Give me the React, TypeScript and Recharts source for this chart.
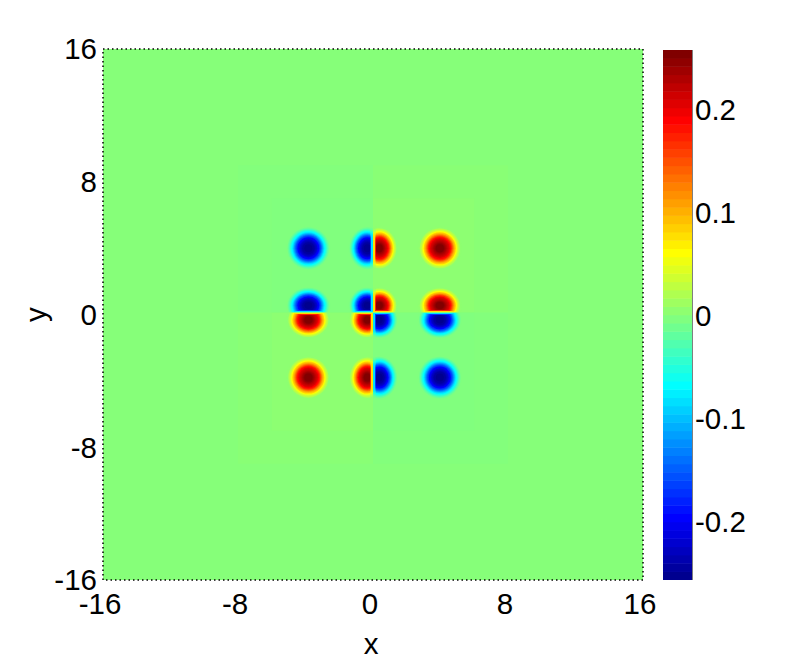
import { ScatterChart, Scatter, ReferenceArea, ReferenceLine, XAxis, YAxis } from "recharts"

// jet colormap, bottom to top of the colorbar
const jetColors = [
  "#00008f", "#00009f", "#0000af", "#0000bf", "#0000cf", "#0000df", "#0000ef", "#0000ff",
  "#0010ff", "#0020ff", "#0030ff", "#0040ff", "#0050ff", "#0060ff", "#0070ff", "#0080ff",
  "#008fff", "#009fff", "#00afff", "#00bfff", "#00cfff", "#00dfff", "#00efff", "#00ffff",
  "#10ffef", "#20ffdf", "#30ffcf", "#40ffbf", "#50ffaf", "#60ff9f", "#70ff8f", "#80ff80",
  "#8fff70", "#9fff60", "#afff50", "#bfff40", "#cfff30", "#dfff20", "#efff10", "#ffff00",
  "#ffef00", "#ffdf00", "#ffcf00", "#ffbf00", "#ffaf00", "#ff9f00", "#ff8f00", "#ff8000",
  "#ff7000", "#ff6000", "#ff5000", "#ff4000", "#ff3000", "#ff2000", "#ff1000", "#ff0000",
  "#ef0000", "#df0000", "#cf0000", "#bf0000", "#af0000", "#9f0000", "#8f0000", "#800000",
]

const axisTicks = [-16, -8, 0, 8, 16]
const colorbarTicks = [-0.2, -0.1, 0, 0.1, 0.2]
const colorMin = -0.257
const colorMax = 0.258

// lobes of the field: columns, rows, sign of each lobe
const lobeColumns = [-3.83, -0.34, 0.37, 3.96]
const lobeRows = [3.99, 0.54, -0.33, -3.8]
const lobeSigns = [
  [-1, -1, 1, 1],
  [-1, -1, 1, 1],
  [1, 1, -1, -1],
  [1, 1, -1, -1],
]
const columnSquash = [1, 0.85, 0.85, 1]
const rowSquash = [1, 0.85, 0.85, 1]
const columnSide = [0, -1, 1, 0]
const rowSide = [0, 1, -1, 0]
const splitX = 0
const splitY = 0.12

// radial profile of one lobe, outermost first (radius in x units)
const ringRadius = [1.3, 1.24, 1.19, 1.13, 1.07, 1.01, 0.95, 0.89, 0.83, 0.77, 0.71, 0.65, 0.59, 0.53, 0.47, 0.41, 0.36, 0.3, 0.24, 0.18]
const ringValue = [0.004, 0.008, 0.02, 0.032, 0.048, 0.064, 0.085, 0.105, 0.129, 0.153, 0.173, 0.193, 0.205, 0.217, 0.225, 0.233, 0.241, 0.245, 0.25, 0.254]
// the value climbs back from zero over the first pixels next to a split line
const edgeValue = [0.08, 0.17]

const plotW = 540
const plotH = 531
const pxPerX = plotW / 32
const pxPerY = plotH / 32
const font = "'Liberation Sans', Arial, sans-serif"
const tickStyle = { fontSize: 29.5, fontFamily: font, fill: "#000" }

const colorOf = (v: number) => {
  const i = Math.floor(((v - colorMin) / (colorMax - colorMin)) * jetColors.length)
  return jetColors[Math.max(0, Math.min(jetColors.length - 1, i))]
}

const lobes = lobeRows.flatMap((y, r) =>
  lobeColumns.map((x, c) => ({
    id: `lobe-${r}-${c}`,
    x,
    y,
    sign: lobeSigns[r][c],
    rx: columnSquash[c],
    ry: rowSquash[r],
    sideX: columnSide[c],
    sideY: rowSide[r],
  })),
)

const levelStep = (colorMax - colorMin) / jetColors.length
const levels = jetColors.map((color, i) => ({ x: 0.5, y: colorMin + (i + 0.5) * levelStep, color }))

const Lobe = (props: any) => {
  const { cx, cy, payload: p } = props
  const edgeX = cx + (splitX - p.x) * pxPerX
  const edgeY = cy + (p.y - splitY) * pxPerY
  const big = 60
  const gap = 0.4
  const cx0 = p.sideX < 0 ? edgeX - big - gap : p.sideX > 0 ? edgeX + gap : cx - big
  const cw = p.sideX === 0 ? big * 2 : big
  const cy0 = p.sideY > 0 ? edgeY - big - gap : p.sideY < 0 ? edgeY + gap : cy - big
  const ch = p.sideY === 0 ? big * 2 : big

  const rings = (cap: number) =>
    ringRadius.map((r, i) => (
      <ellipse
        key={i}
        cx={cx}
        cy={cy}
        rx={r * pxPerX * p.rx}
        ry={r * pxPerX * p.ry}
        fill={colorOf(p.sign * Math.min(ringValue[i], cap))}
      />
    ))

  const strips: any[] = []
  edgeValue.forEach((v, k) => {
    if (p.sideX !== 0) {
      const x = p.sideX < 0 ? edgeX - gap - k - 1 : edgeX + gap + k
      strips.push({ id: `${p.id}-x${k}`, x, y: cy0, w: 1, h: ch, v })
    }
    if (p.sideY !== 0) {
      const y = p.sideY > 0 ? edgeY - gap - k - 1 : edgeY + gap + k
      strips.push({ id: `${p.id}-y${k}`, x: cx0, y, w: cw, h: 1, v })
    }
  })

  return (
    <g>
      <clipPath id={p.id}>
        <rect x={cx0} y={cy0} width={cw} height={ch} />
      </clipPath>
      <g clipPath={`url(#${p.id})`}>
        {rings(1)}
        {strips
          .slice()
          .reverse()
          .map((s) => (
            <g key={s.id}>
              <clipPath id={s.id}>
                <rect x={s.x} y={s.y} width={s.w} height={s.h} />
              </clipPath>
              <g clipPath={`url(#${s.id})`}>{rings(s.v)}</g>
            </g>
          ))}
      </g>
    </g>
  )
}

const Level = (props: any) => {
  const { cx, cy, payload } = props
  const w = 29
  const h = (530 * levelStep) / (colorMax - colorMin)
  return <rect x={cx - w / 2} y={cy - h / 2 - 0.25} width={w} height={h + 0.5} fill={payload.color} />
}

export default function App() {
  return (
    <div style={{ position: "absolute", left: 0, top: 0, width: 789, height: 664, background: "#fff" }}>
      <ScatterChart
        width={789}
        height={664}
        margin={{ top: 49, right: 146, bottom: 0, left: 0 }}
        style={{ position: "absolute", left: 0, top: 0 }}
      >
        <XAxis
          type="number"
          dataKey="x"
          domain={[-16, 16]}
          ticks={axisTicks}
          allowDataOverflow
          axisLine={false}
          tickLine={false}
          tickMargin={7}
          height={84}
          interval={0}
          tick={{ ...tickStyle, dx: -3 }}
          label={{ value: "x", position: "insideBottom", offset: 10, style: tickStyle, dx: -2 }}
        />
        <YAxis
          type="number"
          dataKey="y"
          domain={[-16, 16]}
          ticks={axisTicks}
          allowDataOverflow
          axisLine={false}
          tickLine={false}
          tickMargin={0}
          width={103}
          interval={0}
          tick={tickStyle}
          label={{ value: "y", angle: -90, position: "insideLeft", offset: 36, textAnchor: "middle", style: tickStyle }}
        />
        <ReferenceArea x1={-16} x2={16} y1={-16} y2={16} fill="#86ff79" fillOpacity={1} stroke="none" />
        <ReferenceArea x1={0} x2={8} y1={0.12} y2={9} fill="#8fff70" fillOpacity={0.45} stroke="none" />
        <ReferenceArea x1={-8} x2={0} y1={-9} y2={0.12} fill="#8fff70" fillOpacity={0.45} stroke="none" />
        <ReferenceArea x1={-8} x2={0} y1={0.12} y2={9} fill="#80ff80" fillOpacity={0.45} stroke="none" />
        <ReferenceArea x1={0} x2={8} y1={-9} y2={0.12} fill="#80ff80" fillOpacity={0.45} stroke="none" />
        <ReferenceArea x1={0} x2={6} y1={0.12} y2={7} fill="#8fff70" fillOpacity={0.6} stroke="none" />
        <ReferenceArea x1={-6} x2={0} y1={-7} y2={0.12} fill="#8fff70" fillOpacity={0.6} stroke="none" />
        <ReferenceArea x1={-6} x2={0} y1={0.12} y2={7} fill="#80ff80" fillOpacity={0.6} stroke="none" />
        <ReferenceArea x1={0} x2={6} y1={-7} y2={0.12} fill="#80ff80" fillOpacity={0.6} stroke="none" />
        <Scatter data={lobes} dataKey="y" shape={Lobe} isAnimationActive={false} />
        <ReferenceArea x1={-16} x2={16} y1={-16} y2={16} fill="none" stroke="#000" strokeWidth={1.5} strokeDasharray="1.5 3" />
      </ScatterChart>
      <ScatterChart
        width={126}
        height={664}
        margin={{ top: 50, right: 0, bottom: 84, left: 0 }}
        style={{ position: "absolute", left: 663, top: 0 }}
      >
        <XAxis type="number" dataKey="x" domain={[0, 1]} hide />
        <YAxis
          type="number"
          dataKey="y"
          orientation="right"
          domain={[colorMin, colorMax]}
          ticks={colorbarTicks}
          allowDataOverflow
          axisLine={{ stroke: "#000" }}
          tickLine={false}
          tickSize={3}
          width={97}
          interval={0}
          tickMargin={0}
          tick={{ ...tickStyle, textAnchor: "start" }}
        />
        <Scatter data={levels} dataKey="y" shape={Level} isAnimationActive={false} />
        {colorbarTicks.map((t) => (
          <ReferenceLine key={`l${t}`} segment={[{ x: 0, y: t }, { x: 0.12, y: t }]} stroke="#000" />
        ))}
        {colorbarTicks.map((t) => (
          <ReferenceLine key={`r${t}`} segment={[{ x: 0.88, y: t }, { x: 1, y: t }]} stroke="#000" />
        ))}
      </ScatterChart>
    </div>
  )
}
